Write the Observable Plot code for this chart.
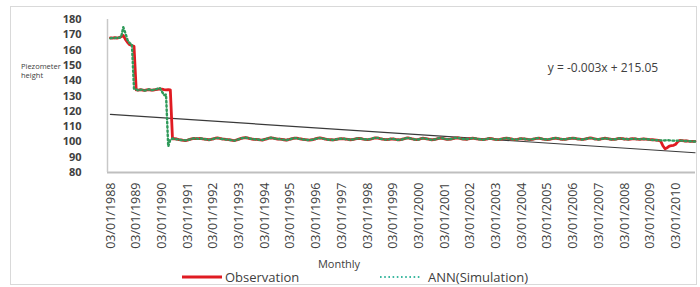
<!DOCTYPE html>
<html>
<head>
<meta charset="utf-8">
<script src="https://cdn.jsdelivr.net/npm/d3@7"></script>
<script src="https://cdn.jsdelivr.net/npm/@observablehq/plot@0.6"></script>
<style>
  html, body { margin: 0; padding: 0; background: #fff; }
  #chart svg { display: block; font-family: "Open Sans", sans-serif; }
  #chart g[aria-label="y-axis tick label"] text { font-weight: 700; font-size: 11px; fill: #404040; }
  #chart g[aria-label="x-axis tick label"] text { font-size: 12.5px; fill: #404040; }
</style>
</head>
<body>
<div id="chart"></div>
<script>
// ---- Data (monthly, starting January 1988) ----
const startYear = 1988;

const observation = [
  // 1988
  168.0,167.8,168.1,167.9,168.2,168.7,169.5,167.0,165.0,163.5,163.0,162.5,
  // 1989
  134.0,133.8,134.1,133.9,133.7,134.0,134.2,133.9,133.8,134.1,134.3,134.6,
  // 1990
  134.5,134.2,134.0,134.1,134.0,102.0,102.1,101.9,101.5,101.3,101.0,100.9,
  // 1991
  101.2,101.6,102.0,102.3,102.2,102.1,102.3,102.0,101.8,101.6,101.4,101.6,
  // 1992
  102.0,102.4,102.6,102.3,102.0,101.8,101.6,101.5,101.3,101.0,100.9,101.3,
  // 1993
  101.8,102.3,102.6,102.8,102.6,102.2,101.9,101.7,101.6,101.5,101.3,101.2,
  // 1994
  101.6,102.0,102.4,102.6,102.4,102.1,101.9,101.8,101.6,101.4,101.2,101.4,
  // 1995
  101.8,102.2,102.5,102.4,102.1,101.9,101.7,101.5,101.3,101.2,101.4,101.7,
  // 1996
  102.1,102.5,102.6,102.3,102.0,101.7,101.5,101.4,101.3,101.5,101.8,102.0,
  // 1997
  102.2,102.0,101.8,101.6,101.4,101.5,101.8,102.1,102.3,102.1,101.8,101.6,
  // 1998
  101.5,101.7,102.0,102.4,102.7,102.5,102.1,101.8,101.6,101.5,101.7,101.9,
  // 1999
  102.0,101.7,101.4,101.3,101.6,102.0,102.4,102.6,102.3,101.9,101.6,101.5,
  // 2000
  101.7,102.1,102.4,102.2,101.9,101.6,101.4,101.5,101.8,102.2,102.5,102.3,
  // 2001
  102.0,101.7,101.6,101.8,102.2,102.5,102.7,102.4,102.0,101.8,101.7,101.9,
  // 2002
  102.2,102.4,102.3,102.0,101.8,101.6,101.5,101.7,102.0,102.3,102.1,101.8,
  // 2003
  101.6,101.5,101.7,102.0,102.3,102.5,102.3,102.0,101.7,101.5,101.6,101.9,
  // 2004
  102.2,102.0,101.8,101.6,101.5,101.7,102.0,102.3,102.4,102.1,101.8,101.6,
  // 2005
  101.5,101.7,102.0,102.3,102.5,102.2,101.9,101.7,101.6,101.8,102.1,102.3,
  // 2006
  102.5,102.3,102.0,101.8,101.6,101.7,102.0,102.3,102.6,102.4,102.0,101.8,
  // 2007
  101.7,101.9,102.2,102.4,102.2,101.9,101.7,101.6,101.8,102.1,102.3,102.1,
  // 2008
  101.9,101.8,101.7,101.9,102.1,102.0,101.8,101.7,101.8,101.9,101.8,101.6,
  // 2009
  101.5,101.4,101.3,101.2,101.0,100.5,97.5,95.5,96.2,97.3,97.6,97.8,
  // 2010 (Jan-Oct)
  98.5,100.3,101.0,100.8,100.6,100.7,100.5,100.4,100.3,100.4
];

const annSimulation = [
  // 1988
  167.7,168.1,167.8,168.2,168.0,168.5,175.0,171.0,166.5,164.5,163.8,134.6,
  // 1989
  134.3,133.6,134.0,134.2,133.5,133.9,134.4,133.7,134.0,134.2,134.8,135.3,
  // 1990
  133.0,130.5,131.0,97.0,101.5,102.2,101.9,101.7,101.6,101.2,101.1,101.0,
  // 1991
  101.3,101.5,102.1,102.2,102.3,102.0,102.2,102.1,101.7,101.7,101.3,101.7,
  // 1992
  101.9,102.5,102.5,102.4,101.9,101.9,101.5,101.6,101.2,101.1,100.8,101.4,
  // 1993
  101.7,102.4,102.5,102.9,102.5,102.3,101.8,101.8,101.5,101.6,101.2,101.3,
  // 1994
  101.5,102.1,102.3,102.7,102.3,102.2,101.8,101.9,101.5,101.5,101.1,101.5,
  // 1995
  101.7,102.3,102.4,102.5,102.0,102.0,101.6,101.6,101.2,101.3,101.3,101.8,
  // 1996
  102.0,102.6,102.5,102.4,101.9,101.8,101.4,101.5,101.2,101.6,101.7,102.1,
  // 1997
  102.1,102.1,101.7,101.7,101.3,101.6,101.7,102.2,102.2,102.2,101.7,101.7,
  // 1998
  101.4,101.8,101.9,102.5,102.6,102.6,102.0,101.9,101.5,101.6,101.6,102.0,
  // 1999
  101.9,101.8,101.3,101.4,101.5,102.1,102.3,102.7,102.2,102.0,101.5,101.6,
  // 2000
  101.6,102.2,102.3,102.3,101.8,101.7,101.3,101.6,101.7,102.3,102.4,102.4,
  // 2001
  101.9,101.8,101.5,101.9,102.1,102.6,102.6,102.5,101.9,101.9,101.6,102.0,
  // 2002
  102.1,102.5,102.2,102.1,101.7,101.7,101.4,101.8,101.9,102.4,102.0,101.9,
  // 2003
  101.5,101.6,101.6,102.1,102.2,102.6,102.2,102.1,101.6,101.6,101.5,102.0,
  // 2004
  102.1,102.1,101.7,101.7,101.4,101.8,101.9,102.4,102.3,102.2,101.7,101.7,
  // 2005
  101.4,101.8,101.9,102.4,102.4,102.3,101.8,101.8,101.5,101.9,102.0,102.4,
  // 2006
  102.4,102.4,101.9,101.9,101.5,101.8,101.9,102.4,102.5,102.5,101.9,101.9,
  // 2007
  101.6,102.0,102.1,102.5,102.1,102.0,101.6,101.7,101.7,102.2,102.2,102.2,
  // 2008
  101.8,101.9,101.6,102.0,102.0,102.1,101.7,101.8,101.7,102.0,101.7,101.7,
  // 2009
  101.4,101.3,101.2,101.1,101.0,101.0,100.9,101.0,101.1,101.0,100.9,100.8,
  // 2010 (Jan-Oct)
  100.7,100.8,100.9,100.8,100.6,100.6,100.5,100.4,100.3,100.3
];

// Linear trend (y = -0.003x + 215.05), values read at the two ends of the series
const trendDates = ["1988-01-01", "2010-10-01"];
const trendValues = [118.0, 92.9];
const trendLabel = "y = -0.003x + 215.05";

const xTickLabels = [
  "03/01/1988","03/01/1989","03/01/1990","03/01/1991","03/01/1992","03/01/1993",
  "03/01/1994","03/01/1995","03/01/1996","03/01/1997","03/01/1998","03/01/1999",
  "03/01/2000","03/01/2001","03/01/2002","03/01/2003","03/01/2004","03/01/2005",
  "03/01/2006","03/01/2007","03/01/2008","03/01/2009","03/01/2010"
];
const yTicks = [80, 90, 100, 110, 120, 130, 140, 150, 160, 170, 180];

const seriesNames = ["Observation", "ANN(Simulation)"];
const yLabelLines = ["Piezometer", "height"];
const xLabel = "Monthly";

// ---- Build tables ----
const parseTick = d3.utcParse("%d/%m/%Y");
const fmtTick = d3.utcFormat("%d/%m/%Y");
const tickDates = xTickLabels.map(parseTick);

const rows = observation.map((v, i) => ({
  date: new Date(Date.UTC(startYear, i, 1)),
  obs: v,
  ann: annSimulation[i]
}));
const trend = trendDates.map((d, i) => ({date: new Date(d + "T00:00:00Z"), y: trendValues[i]}));

const xDomain = [new Date(Date.UTC(1987, 10, 20)), new Date(Date.UTC(2010, 9, 8))];

const W = 700, H = 287;
const chart = Plot.plot({
  width: W,
  height: H,
  marginLeft: 107,
  marginRight: 5,
  marginTop: 19,
  marginBottom: 115,
  x: {type: "utc", domain: xDomain},
  y: {domain: [80, 180]},
  marks: [
    Plot.ruleY([80], {stroke: "#bfbfbf", strokeWidth: 2}),
    Plot.ruleX([xDomain[0]], {stroke: "#c8c8c8", strokeWidth: 1.5}),
    Plot.line(trend, {x: "date", y: "y", stroke: "#3a3a3a", strokeWidth: 1.2}),
    Plot.line(rows, {x: "date", y: "obs", stroke: "#e01b22", strokeWidth: 2.8}),
    Plot.line(rows, {x: "date", y: "ann", stroke: "#2f9a5a", strokeWidth: 2.4, strokeDasharray: "1.6,2.6"}),
    Plot.axisY(yTicks, {tickSize: 0, tickPadding: 26, label: null}),
    Plot.axisX(tickDates, {tickSize: 0, tickPadding: 10, tickRotate: -90, tickFormat: fmtTick, label: null})
  ]
});

const svg = d3.select(chart);
// outer border
svg.insert("rect", ":first-child")
  .attr("x", 10.5).attr("y", 6.5).attr("width", 686).attr("height", 278)
  .attr("fill", "none").attr("stroke", "#d9d9d9");

// y label
const yl = svg.append("text").attr("font-size", 7.5).attr("fill", "#404040")
  .attr("text-anchor", "start").attr("font-family", "Open Sans, sans-serif");
yLabelLines.forEach((t, i) => yl.append("tspan").attr("x", 21).attr("y", 69 + i * 9).text(t));

// equation
svg.append("text").attr("x", 603).attr("y", 72).attr("text-anchor", "middle")
  .attr("font-size", 12).attr("fill", "#404040").attr("font-family", "Open Sans, sans-serif")
  .text(trendLabel);

// x label
svg.append("text").attr("x", 339).attr("y", 268).attr("text-anchor", "middle")
  .attr("font-size", 11).attr("fill", "#404040").attr("font-family", "Open Sans, sans-serif")
  .text(xLabel);

// legend
const lg = svg.append("g").attr("font-family", "Open Sans, sans-serif").attr("font-size", 13)
  .attr("fill", "#404040").attr("text-anchor", "start");
lg.append("line").attr("x1", 182).attr("x2", 222).attr("y1", 277).attr("y2", 277)
  .attr("stroke", "#e01b22").attr("stroke-width", 2.8);
lg.append("text").attr("x", 225).attr("y", 281.5).text(seriesNames[0]);
lg.append("line").attr("x1", 380).attr("x2", 420).attr("y1", 277).attr("y2", 277)
  .attr("stroke", "#3cb8a0").attr("stroke-width", 2.2).attr("stroke-dasharray", "1.6,2.6");
lg.append("text").attr("x", 428).attr("y", 281.5).text(seriesNames[1]);

document.getElementById("chart").appendChild(chart);
</script>
</body>
</html>
